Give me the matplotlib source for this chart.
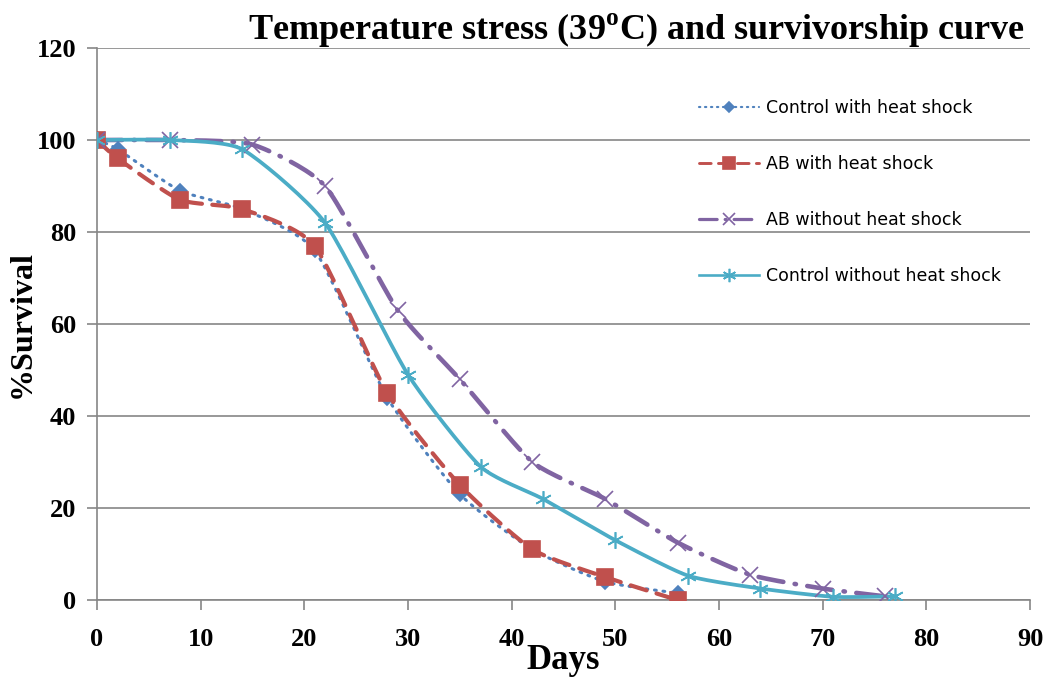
import numpy as np
import matplotlib
matplotlib.use('Agg')
import matplotlib.pyplot as plt

# data
days_ctrl_hs = [0, 2, 8, 14, 21, 28, 35, 42, 49, 56]
surv_ctrl_hs = [100, 98, 89, 85, 76, 44, 23, 11, 4, 1.5]

days_ab_hs = [0, 2, 8, 14, 21, 28, 35, 42, 49, 56]
surv_ab_hs = [100, 96, 87, 85, 77, 45, 25, 11, 5, 0]

days_ab_nohs = [0, 7, 15, 22, 29, 35, 42, 49, 56, 63, 70, 76]
surv_ab_nohs = [100, 100, 99, 90, 63, 48, 30, 22, 12.5, 5.5, 2.5, 0.8]

days_ctrl_nohs = [0, 7, 14, 22, 30, 37, 43, 50, 57, 64, 71, 77]
surv_ctrl_nohs = [100, 100, 98, 82, 49, 29, 22, 13, 5.3, 2.5, 0.7, 0.8]

labels = ['Control with heat shock', 'AB with heat shock',
          'AB without heat shock', 'Control without heat shock']

plt.rcParams['mathtext.fontset'] = 'custom'
plt.rcParams['mathtext.rm'] = 'Liberation Serif'
plt.rcParams['mathtext.bf'] = 'Liberation Serif:bold'


def smooth(x, y, c=0.3, n=20):
    # cardinal spline, softer than Catmull-Rom
    x = np.asarray(x, float)
    y = np.asarray(y, float)
    px = np.concatenate([[x[0]], x, [x[-1]]])
    py = np.concatenate([[y[0]], y, [y[-1]]])
    t = np.linspace(0, 1, n, endpoint=False)
    h00 = 2 * t ** 3 - 3 * t ** 2 + 1
    h10 = t ** 3 - 2 * t ** 2 + t
    h01 = -2 * t ** 3 + 3 * t ** 2
    h11 = t ** 3 - t ** 2
    xs, ys = [], []
    for i in range(1, len(px) - 2):
        for arr, out in ((px, xs), (py, ys)):
            m1 = c * (arr[i + 1] - arr[i - 1])
            m2 = c * (arr[i + 2] - arr[i])
            out.extend(h00 * arr[i] + h10 * m1 + h01 * arr[i + 1] + h11 * m2)
    xs.append(x[-1])
    ys.append(y[-1])
    return np.array(xs), np.array(ys)


blue = '#4F81BD'
red = '#C0504D'
purple = '#8064A2'
teal = '#4BACC6'

fig = plt.figure(figsize=(10.47, 6.79), dpi=100)
ax = fig.add_axes([0.0926, 0.1163, 0.8912, 0.813])

styles = [
    (days_ctrl_hs, surv_ctrl_hs, blue, (0, (0.6, 2.2)), 'D', 7, 2.2),
    (days_ab_hs, surv_ab_hs, red, (0, (4, 2.5)), 's', 11, 3.0),
    (days_ab_nohs, surv_ab_nohs, purple, (0, (5.5, 2.5, 0.3, 2.5)), 'x', 11, 3.3),
    (days_ctrl_nohs, surv_ctrl_nohs, teal, '-', (6, 2, 0), 12, 2.7),
]
for (x, y, c, ls, mk, ms, lw), lab in zip(styles, labels):
    sx, sy = smooth(x, y)
    ax.plot(sx, sy, color=c, linestyle=ls, linewidth=lw, zorder=3,
            dash_capstyle='round')
    ax.plot(x, y, linestyle='none', marker=mk, markersize=ms, color=c,
            markeredgecolor=c, markeredgewidth=1.2, zorder=4)
    ax.plot([], [], color=c, linestyle=ls, linewidth=lw * 0.7, marker=mk,
            markersize=ms * 0.8, markeredgewidth=1.2, label=lab,
            dash_capstyle='round')

ax.set_xlim(0, 90)
ax.set_ylim(0, 120)
ax.set_xticks(range(0, 91, 10))
ax.set_yticks(range(0, 121, 20))
ax.grid(axis='y', color='#868686', linewidth=1.2)
ax.set_axisbelow(True)
for s in ['top', 'right']:
    ax.spines[s].set_visible(False)
for s in ['left', 'bottom']:
    ax.spines[s].set_color('#868686')
    ax.spines[s].set_linewidth(1.2)
ax.tick_params(colors='#868686', length=7, width=1.2, labelcolor='black')
ax.tick_params(axis='x', pad=13)
ax.tick_params(axis='y', pad=8)
for lbl in ax.get_xticklabels() + ax.get_yticklabels():
    lbl.set_fontfamily('Liberation Serif')
    lbl.set_fontweight('bold')
    lbl.set_fontsize(19)

ax.set_xlabel('Days', fontfamily='Liberation Serif', fontweight='bold',
              fontsize=25, labelpad=-5)
ax.set_ylabel('%Survival', fontfamily='Liberation Serif', fontweight='bold',
              fontsize=23)
ax.yaxis.set_label_coords(-0.064, 0.5)
fig.text(0.979, 0.956, 'Temperature stress (39$^{\\mathbf{o}}$C) and survivorship curve',
         ha='right', va='center', fontfamily='Liberation Serif',
         fontweight='bold', fontsize=26)

ax.legend(loc='upper left', bbox_to_anchor=(690 / 1047, 1 - 90 / 679),
          bbox_transform=fig.transFigure, frameon=False, borderpad=0,
          prop={'family': 'DejaVu Sans', 'size': 12.5}, handlelength=3.5,
          labelspacing=2.2, handletextpad=0.35)

fig.savefig('out.png', dpi=100)
